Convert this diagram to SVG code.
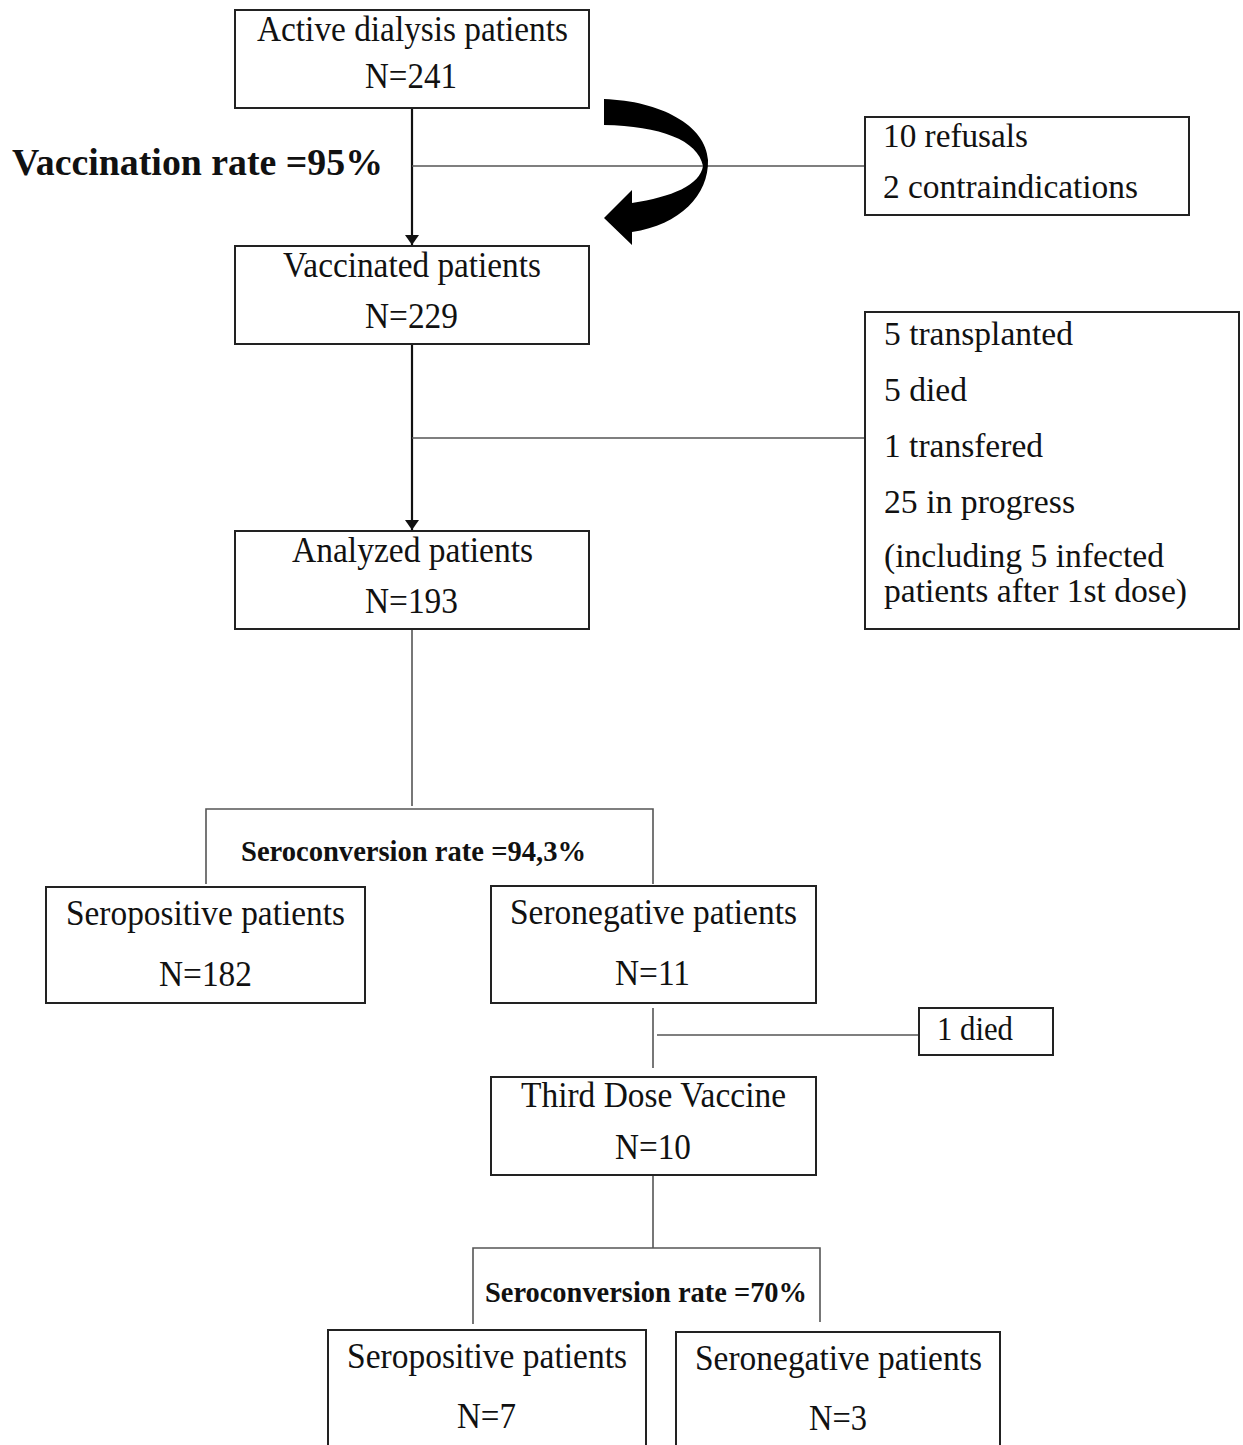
<svg xmlns="http://www.w3.org/2000/svg" width="1243" height="1445" viewBox="0 0 1243 1445">
<style>
.box{fill:#fff;stroke:#222;stroke-width:2}
.ln{stroke:#555;stroke-width:1.6;fill:none}
.arr{stroke:#111;stroke-width:2.2;fill:none}
.t{font-family:"Liberation Serif","Times New Roman",serif;font-size:36px;fill:#111}
.r{font-family:"Liberation Serif","Times New Roman",serif;font-size:33px;fill:#111}
.b{font-family:"Liberation Serif","Times New Roman",serif;font-weight:bold;fill:#111}
</style>
<defs>
<marker id="ah" viewBox="0 0 10 14" refX="10" refY="7" markerWidth="10" markerHeight="14" markerUnits="userSpaceOnUse" orient="auto">
<path d="M0,0 L10,7 L0,14 Z" fill="#111"/>
</marker>
</defs>
<rect width="1243" height="1445" fill="#fff"/>
<g id="connectors">
<line class="arr" x1="412" y1="108" x2="412" y2="245" marker-end="url(#ah)"/>
<line class="ln" x1="412" y1="166" x2="865" y2="166"/>
<line class="arr" x1="412" y1="344" x2="412" y2="530" marker-end="url(#ah)"/>
<line class="ln" x1="412" y1="438" x2="865" y2="438"/>
<line class="ln" x1="412" y1="629" x2="412" y2="806"/>
<polyline class="ln" points="206,884 206,809 653,809 653,884"/>
<line class="ln" x1="653" y1="1008" x2="653" y2="1068"/>
<line class="ln" x1="657" y1="1035" x2="918" y2="1035"/>
<line class="ln" x1="653" y1="1175" x2="653" y2="1248"/>
<polyline class="ln" points="473,1324 473,1248 820,1248 820,1322"/>
<path id="curved-arrow" d="M604 99 C660 101 706 125 708 160 C709 195 680 225 632 232 L632 245 L604 218 L632 190 L632 203 C672 197 700 185 703 166 C698 140 660 126 604 125 Z" fill="#000"/>
</g>
<text class="b" x="12" y="175" font-size="38" textLength="371" lengthAdjust="spacingAndGlyphs">Vaccination rate =95%</text>
<text class="b" x="241" y="861" font-size="29" textLength="345" lengthAdjust="spacingAndGlyphs">Seroconversion rate =94,3%</text>
<text class="b" x="485" y="1302" font-size="29" textLength="322" lengthAdjust="spacingAndGlyphs">Seroconversion rate =70%</text>
<g id="active">
<rect class="box" x="235" y="10" width="354" height="98"/>
<text class="t" x="257" y="41" textLength="311" lengthAdjust="spacingAndGlyphs">Active dialysis patients</text>
<text class="t" x="365" y="88" textLength="92" lengthAdjust="spacingAndGlyphs">N=241</text>
</g>
<g id="excluded1">
<rect class="box" x="865" y="117" width="324" height="98"/>
<text class="r" x="883" y="147" textLength="145" lengthAdjust="spacingAndGlyphs">10 refusals</text>
<text class="r" x="883" y="198" textLength="255" lengthAdjust="spacingAndGlyphs">2 contraindications</text>
</g>
<g id="vaccinated">
<rect class="box" x="235" y="246" width="354" height="98"/>
<text class="t" x="283" y="277" textLength="258" lengthAdjust="spacingAndGlyphs">Vaccinated patients</text>
<text class="t" x="365" y="328" textLength="93" lengthAdjust="spacingAndGlyphs">N=229</text>
</g>
<g id="excluded2">
<rect class="box" x="865" y="312" width="374" height="317"/>
<text class="r" x="884" y="345" textLength="189" lengthAdjust="spacingAndGlyphs">5 transplanted</text>
<text class="r" x="884" y="401" textLength="83" lengthAdjust="spacingAndGlyphs">5 died</text>
<text class="r" x="884" y="457" textLength="159" lengthAdjust="spacingAndGlyphs">1 transfered</text>
<text class="r" x="884" y="513" textLength="191" lengthAdjust="spacingAndGlyphs">25 in progress</text>
<text class="r" x="884" y="567" font-size="31" textLength="280" lengthAdjust="spacingAndGlyphs">(including 5 infected</text>
<text class="r" x="884" y="602" font-size="31" textLength="303" lengthAdjust="spacingAndGlyphs">patients after 1st dose)</text>
</g>
<g id="analyzed">
<rect class="box" x="235" y="531" width="354" height="98"/>
<text class="t" x="292" y="562" textLength="241" lengthAdjust="spacingAndGlyphs">Analyzed patients</text>
<text class="t" x="365" y="613" textLength="93" lengthAdjust="spacingAndGlyphs">N=193</text>
</g>
<g id="seropos1">
<rect class="box" x="46" y="887" width="319" height="116"/>
<text class="t" x="66" y="925" textLength="279" lengthAdjust="spacingAndGlyphs">Seropositive patients</text>
<text class="t" x="159" y="986" textLength="93" lengthAdjust="spacingAndGlyphs">N=182</text>
</g>
<g id="seroneg1">
<rect class="box" x="491" y="886" width="325" height="117"/>
<text class="t" x="510" y="924" textLength="287" lengthAdjust="spacingAndGlyphs">Seronegative patients</text>
<text class="t" x="615" y="985" textLength="75" lengthAdjust="spacingAndGlyphs">N=11</text>
</g>
<g id="died">
<rect class="box" x="919" y="1008" width="134" height="47"/>
<text class="r" x="937" y="1040" textLength="76" lengthAdjust="spacingAndGlyphs">1 died</text>
</g>
<g id="third">
<rect class="box" x="491" y="1077" width="325" height="98"/>
<text class="t" x="521" y="1107" textLength="265" lengthAdjust="spacingAndGlyphs">Third Dose Vaccine</text>
<text class="t" x="615" y="1159" textLength="76" lengthAdjust="spacingAndGlyphs">N=10</text>
</g>
<g id="seropos2">
<rect class="box" x="328" y="1330" width="318" height="140"/>
<text class="t" x="347" y="1368" textLength="280" lengthAdjust="spacingAndGlyphs">Seropositive patients</text>
<text class="t" x="457" y="1428" textLength="59" lengthAdjust="spacingAndGlyphs">N=7</text>
</g>
<g id="seroneg2">
<rect class="box" x="676" y="1332" width="324" height="140"/>
<text class="t" x="695" y="1370" textLength="287" lengthAdjust="spacingAndGlyphs">Seronegative patients</text>
<text class="t" x="809" y="1430" textLength="58" lengthAdjust="spacingAndGlyphs">N=3</text>
</g>
</svg>
